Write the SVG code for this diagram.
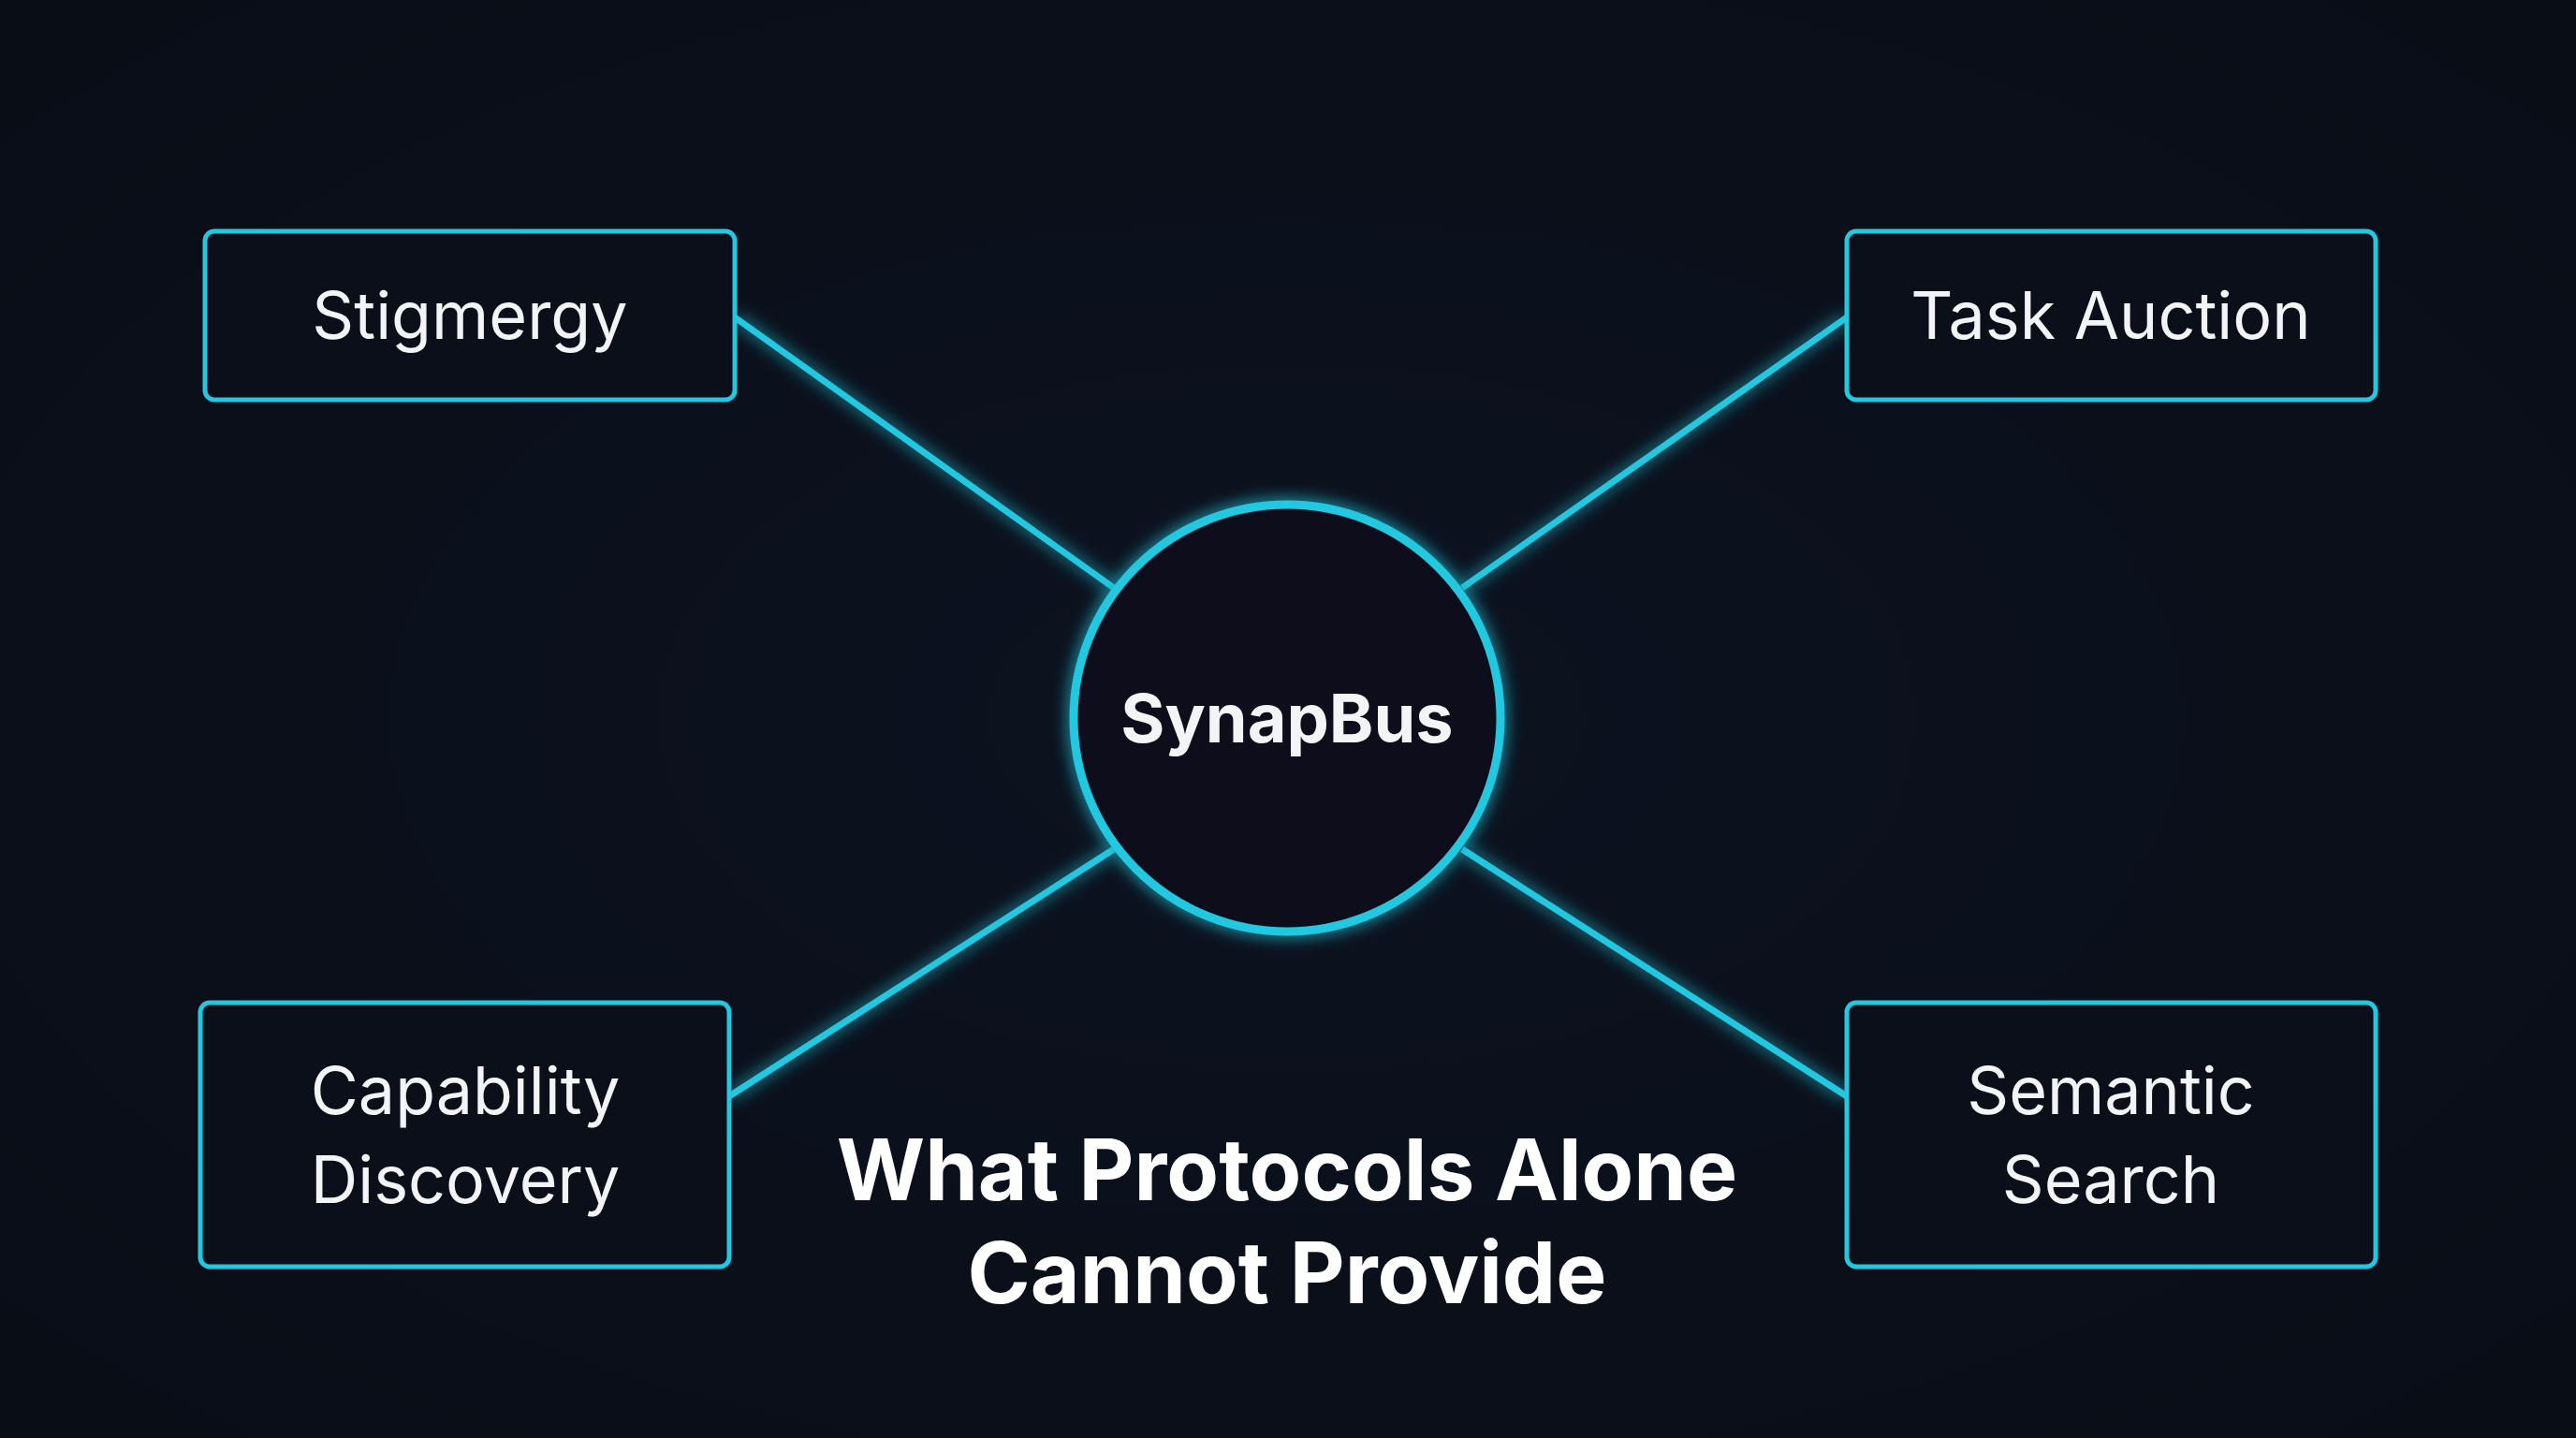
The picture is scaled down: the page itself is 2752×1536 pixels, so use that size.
<svg xmlns="http://www.w3.org/2000/svg" width="2752" height="1536" viewBox="0 0 2752 1536">
<defs>
<filter id="glow" x="-30%" y="-30%" width="160%" height="160%">
<feGaussianBlur stdDeviation="9" result="b"/>
<feMerge><feMergeNode in="b"/><feMergeNode in="SourceGraphic"/></feMerge>
</filter>
<radialGradient id="bg" cx="50%" cy="50%" r="70%">
<stop offset="0" stop-color="#0c1320"/><stop offset="1" stop-color="#090d16"/>
</radialGradient>
</defs>
<style>
.box{fill:#0a0f1a;stroke:#22c8e0;stroke-width:5}
.lbl{font-family:Inter,"Liberation Sans",sans-serif;font-size:70px;fill:#f2f4f6;text-anchor:middle}
.con{stroke:#22c8e0;stroke-width:7;fill:none;filter:url(#glow)}
.title{font-family:Inter,"Liberation Sans",sans-serif;font-size:91px;font-weight:700;fill:#ffffff;text-anchor:middle}
</style>
<rect width="2752" height="1536" fill="url(#bg)"/>
<g id="connectors">
<line class="con" x1="785" y1="339" x2="1190" y2="628"/>
<line class="con" x1="1973" y1="339" x2="1562" y2="628"/>
<line class="con" x1="779" y1="1171" x2="1190" y2="907"/>
<line class="con" x1="1973" y1="1171" x2="1562" y2="907"/>
</g>
<g id="hub">
<circle cx="1375" cy="767" r="228" fill="#0a0f1a" stroke="#22c8e0" stroke-width="9" filter="url(#glow)"/>
<text class="lbl" x="1375" y="793" style="font-weight:700;font-size:72px">SynapBus</text>
</g>
<g id="stigmergy">
<rect class="box" x="219" y="247" width="566" height="180" rx="10"/>
<text class="lbl" x="502" y="362">Stigmergy</text>
</g>
<g id="task-auction">
<rect class="box" x="1973" y="247" width="565" height="180" rx="10"/>
<text class="lbl" x="2255" y="362">Task Auction</text>
</g>
<g id="capability-discovery">
<rect class="box" x="214" y="1071" width="565" height="282" rx="10"/>
<text class="lbl" x="497" y="1190">Capability</text>
<text class="lbl" x="497" y="1285">Discovery</text>
</g>
<g id="semantic-search">
<rect class="box" x="1973" y="1071" width="565" height="282" rx="10"/>
<text class="lbl" x="2255" y="1190">Semantic</text>
<text class="lbl" x="2255" y="1285">Search</text>
</g>
<g id="title">
<text class="title" x="1375" y="1282">What Protocols Alone</text>
<text class="title" x="1375" y="1392">Cannot Provide</text>
</g>
</svg>
